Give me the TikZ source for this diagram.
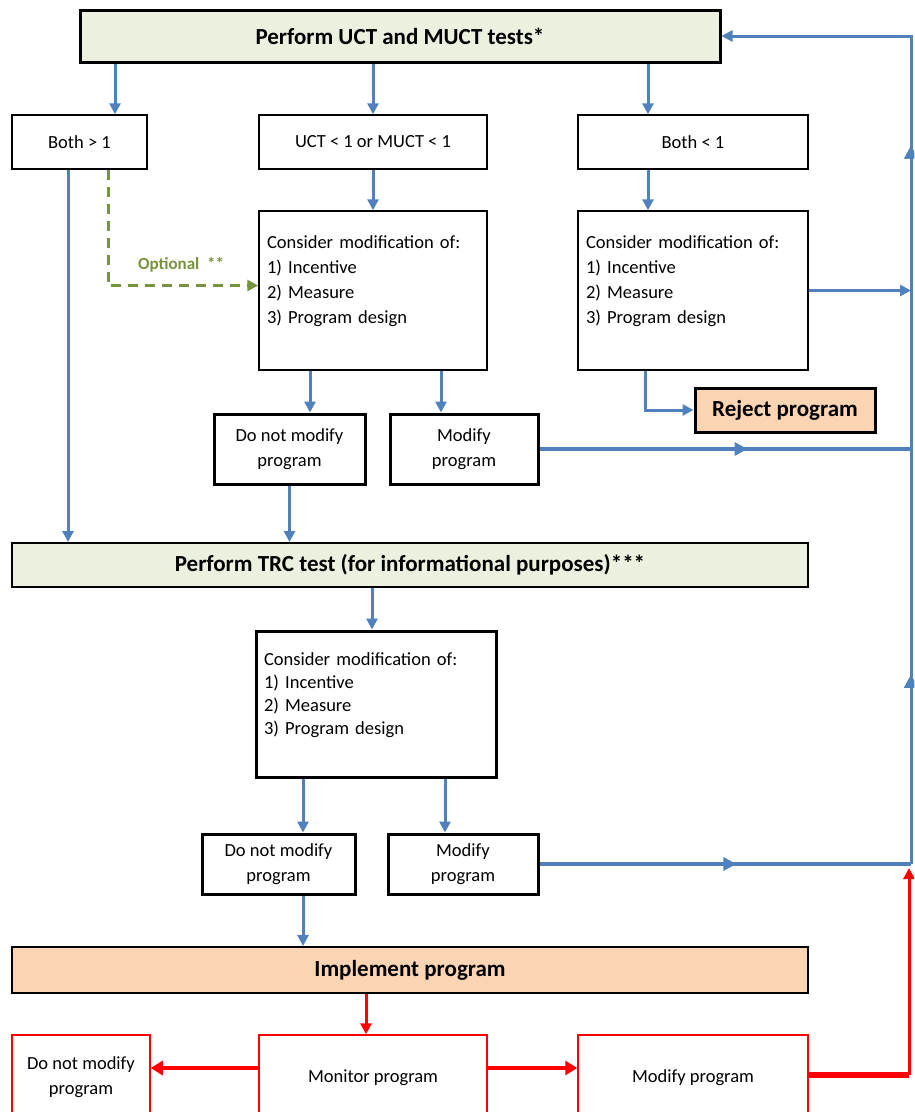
\documentclass[tikz,border=0pt]{standalone}
\usepackage{fontspec}
\setmainfont{Carlito}
\usetikzlibrary{arrows.meta,calc,decorations.markings}
\definecolor{ablue}{HTML}{4F81BD}
\definecolor{hgreen}{HTML}{EBF1DE}
\definecolor{peach}{HTML}{FBD4B4}
\definecolor{ogreen}{HTML}{77933C}
\definecolor{ared}{HTML}{FF0000}
\newcommand\cmodtext{Consider modification of:\\1) Incentive\\2) Measure\\3) Program design\\[-10pt]\strut}
\begin{document}
\begin{tikzpicture}[x=1pt,y=-1pt,
  box/.style={draw=black, rectangle, inner sep=0pt, align=center, font=\fontsize{18.5}{25}\selectfont},
  thinbox/.style={box, line width=1.5pt},
  thickbox/.style={box, line width=3pt},
  header/.style={draw=black, line width=2pt, inner sep=0pt, font=\bfseries\fontsize{23}{28}\selectfont},
  consider/.style={box, align=left, inner xsep=8pt, text width=#1},
  redbox/.style={box, draw=ared, line width=1.5pt},
  tip/.style={-{Triangle[length=11pt,width=11pt]}},
  arr/.style={draw=ablue, line width=3pt, tip},
  bline/.style={draw=ablue, line width=3pt},
  midarrow/.style={postaction={decorate}, decoration={markings, mark=at position #1 with {\arrow{Triangle[length=13pt,width=13pt]}}}},
  darr/.style={draw=ogreen, line width=3pt, dash pattern=on 10pt off 7pt, tip},
  rarr/.style={draw=ared, line width=3pt, tip},
  rarrthick/.style={draw=ared, line width=4.5pt, -{Triangle[length=12pt,width=14pt]}},
]
\useasboundingbox (0,0) rectangle (914,1112);
\clip (0,0) rectangle (914,1112);

% nodes
\node[header, fill=hgreen, line width=3pt, minimum width=640pt, minimum height=52pt] (uct) at (400,36) {Perform UCT and MUCT tests*};
\node[thinbox, minimum width=135pt, minimum height=54pt] (b1) at (79.5,142) {Both > 1};
\node[thinbox, minimum width=228pt, minimum height=54pt] (b2) at (373,142) {UCT < 1 or MUCT < 1};
\node[thinbox, minimum width=230pt, minimum height=54pt] (b3) at (693,142) {Both < 1};
\node[consider=212pt, line width=1.5pt, minimum height=159pt] (c1) at (373,290.5) {\cmodtext};
\node[consider=214pt, line width=1.5pt, minimum height=159pt] (c2) at (693,290.5) {\cmodtext};
\node[thickbox, fill=peach, font=\bfseries\fontsize{23}{28}\selectfont, minimum width=180pt, minimum height=44pt] (rej) at (785,410) {Reject program};
\node[thickbox, minimum width=151pt, minimum height=70pt] (dn1) at (289.5,449) {Do not modify\\program};
\node[thickbox, minimum width=148pt, minimum height=70pt] (m1) at (464,449) {Modify\\program};
\node[font=\bfseries\fontsize{17}{20}\selectfont, text=ogreen] (opt) at (181,265) {Optional\ \ **};
\node[header, fill=hgreen, minimum width=796pt, minimum height=44pt] (trc) at (410,565) {Perform TRC test (for informational purposes)***};
\node[consider=224pt, line width=3pt, font=\fontsize{18.5}{23}\selectfont, minimum height=146pt] (c3) at (376,704) {\cmodtext};
\node[thickbox, minimum width=153pt, minimum height=60pt] (dn2) at (278.5,864) {Do not modify\\program};
\node[thickbox, minimum width=150pt, minimum height=60pt] (m2) at (463,864) {Modify\\program};
\node[header, fill=peach, minimum width=796pt, minimum height=46pt] (impl) at (410,970) {Implement program};
\node[redbox, minimum width=138pt, minimum height=85pt] (r1) at (81,1077.5) {Do not modify\\program};
\node[redbox, minimum width=228pt, minimum height=85pt] (r2) at (373,1077.5) {Monitor program};
\node[redbox, minimum width=230pt, minimum height=85pt] (r3) at (693,1077.5) {Modify program};

% helper coordinates
\coordinate (xa) at (115,0);
\coordinate (xb) at (648,0);
\coordinate (xl) at (68,0);
\coordinate (xo) at (108,0);
\coordinate (xc) at (310,0);
\coordinate (xd) at (441,0);
\coordinate (xr) at (645,0);
\coordinate (xt) at (372,0);
\coordinate (xe) at (303,0);
\coordinate (xf) at (445,0);
\coordinate (xg) at (366,0);
\coordinate (xR) at (911,0);
\coordinate (xRed) at (909,0);
\coordinate (yr) at (0,1068);
\coordinate (yrr) at (0,1075);
\coordinate (ytop) at (0,868);

% blue connectors
\draw[arr] (xa |- uct.south) -- (xa |- b1.north);
\draw[arr] (b2.north |- uct.south) -- (b2.north);
\draw[arr] (xb |- uct.south) -- (xb |- b3.north);
\draw[arr] (b2.south) -- (c1.north);
\draw[arr] (xb |- b3.south) -- (xb |- c2.north);
\draw[arr] (xl |- b1.south) -- (xl |- trc.north);
\draw[darr] (xo |- b1.south) |- ([yshift=5pt]c1.west);
\draw[arr] (xc |- c1.south) -- (xc |- dn1.north);
\draw[arr] (xd |- c1.south) -- (xd |- m1.north);
\draw[arr] (xr |- c2.south) |- (rej.west);
\draw[arr] (c2.east) -- (xR |- c2.east);
\draw[bline, line width=4pt, midarrow=0.56] (m1.east) -- (xR |- m1.east);
\draw[arr] (dn1.south) -- (dn1.south |- trc.north);
\draw[arr] (xt |- trc.south) -- (xt |- c3.north);
\draw[arr] (xe |- c3.south) -- (xe |- dn2.north);
\draw[arr] (xf |- c3.south) -- (xf |- m2.north);
\draw[bline, line width=4.5pt, midarrow=0.53] (m2.east) -- (xR |- m2.east);
\draw[arr] (xe |- dn2.south) -- (xe |- impl.north);
\draw[bline, midarrow=0.186, midarrow=0.706, tip] (xR |- m2.east) -- (xR |- uct.east) -- (uct.east);

% red connectors
\draw[rarr] (xg |- impl.south) -- (xg |- r2.north);
\draw[rarrthick] (r2.west |- yr) -- (r1.east |- yr);
\draw[rarrthick] (r2.east |- yr) -- (r3.west |- yr);
\draw[draw=ared, line width=5.5pt] (r3.east |- yrr) -- (xRed |- yrr);
\draw[draw=ared, line width=3pt, -{Triangle[length=11pt,width=11pt]}] (xRed |- yrr) -- (xRed |- ytop);
\end{tikzpicture}
\end{document}
